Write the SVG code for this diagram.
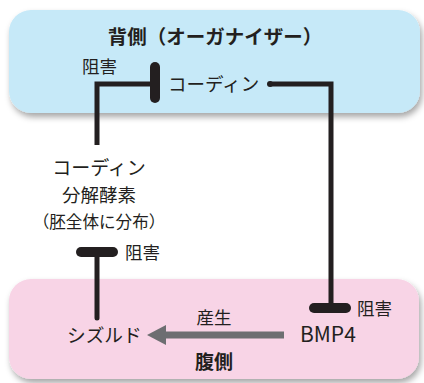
<svg xmlns="http://www.w3.org/2000/svg" width="424" height="383" viewBox="0 0 424 383">
<defs>
<filter id="sh" x="-10%" y="-20%" width="125%" height="150%">
<feDropShadow dx="2" dy="4" stdDeviation="3" flood-color="#000" flood-opacity="0.35"/>
</filter>
</defs>
<style>
text{font-family:"Noto Sans CJK JP","Noto Sans",sans-serif;fill:#231f20}
.b{font-weight:bold}
.ln{fill:none;stroke:#231f20;stroke-width:5;stroke-linejoin:miter}
.bar{stroke:#231f20;stroke-width:10;stroke-linecap:round}
</style>
<g id="dorsal">
<rect x="9" y="10" width="411" height="103" rx="22" fill="#c6e9f8" filter="url(#sh)"/>
<text class="b" x="215" y="44" font-size="19.5" text-anchor="middle">背側（オーガナイザー）</text>
</g>
<g id="ventral">
<rect x="9" y="279" width="410" height="100" rx="22" fill="#f8d4e6" filter="url(#sh)"/>
<text class="b" x="214" y="369" font-size="19" text-anchor="middle">腹側</text>
</g>
<g id="chordin">
<text x="168" y="91" font-size="18.5">コーディン</text>
</g>
<g id="enzyme">
<text x="99" y="175" font-size="19" text-anchor="middle">コーディン</text>
<text x="99" y="202" font-size="18.5" text-anchor="middle">分解酵素</text>
<text x="99" y="228" font-size="16.6" text-anchor="middle">（胚全体に分布）</text>
</g>
<g id="sizzled">
<text x="67" y="342" font-size="18.7">シズルド</text>
</g>
<g id="bmp4">
<text x="300" y="342" font-size="21" font-family="Liberation Sans, sans-serif">BMP4</text>
</g>
<g id="connectors">
<polyline class="ln" points="97,145 97,84 155,84"/>
<line class="bar" x1="155" y1="67" x2="155" y2="98"/>
<text x="82" y="73" font-size="17.5">阻害</text>
<polyline class="ln" points="270,84 331,84 331,306"/>
<circle cx="270" cy="84" r="3" fill="#231f20"/>
<line class="bar" x1="314" y1="308" x2="346" y2="308"/>
<text x="357" y="315" font-size="17.5">阻害</text>
<line class="ln" x1="97" y1="252" x2="97" y2="318" stroke-linecap="round"/>
<line class="bar" x1="81" y1="252" x2="113" y2="252"/>
<text x="125" y="259" font-size="17.5">阻害</text>
<line x1="284" y1="335" x2="162" y2="335" stroke="#6d6e71" stroke-width="7"/>
<polygon points="147,335 166,325 166,345" fill="#6d6e71"/>
<text x="214" y="324" font-size="17.5" text-anchor="middle">産生</text>
</g>
</svg>
